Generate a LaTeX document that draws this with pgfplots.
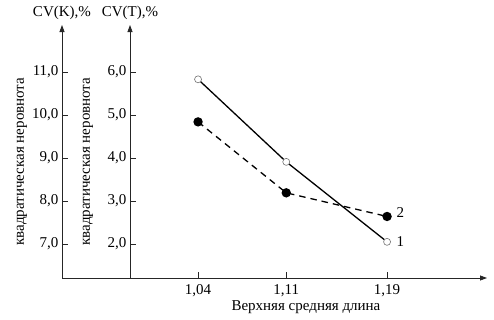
\documentclass[border=0pt]{standalone}
\usepackage{fontspec}
\setmainfont{Liberation Serif}
\usepackage{pgfplots}
\pgfplotsset{compat=1.18}
\usetikzlibrary{arrows.meta}

\begin{document}
\begin{tikzpicture}[font=\fontsize{15}{17}\selectfont]
\path[use as bounding box] (-62pt,-41pt) rectangle (432pt,278pt);
\begin{axis}[
  at={(0,0)}, anchor=south west, scale only axis,
  width=425pt, height=253pt,
  xmin=0.932, xmax=1.2693, ymin=6.209, ymax=12.093,
  axis x line=bottom, axis y line=left,
  axis line style={line width=0.8pt, black!85, -{Triangle[length=7pt,width=5pt]}},
  xtick={1.04,1.11,1.19}, ytick={7,8,9,10,11},
  tick style={black!85, line width=0.6pt},
  major tick length=6pt,
  tick align=inside,
  tick label style={font=\fontsize{15}{17}\selectfont},
  /pgf/number format/assume math mode=true,
  xticklabel style={/pgf/number format/fixed, /pgf/number format/fixed zerofill, /pgf/number format/precision=2, /pgf/number format/use comma, yshift=-3pt},
  yticklabel style={/pgf/number format/fixed, /pgf/number format/fixed zerofill, /pgf/number format/precision=1, /pgf/number format/use comma},
  every axis y label/.style={at={(rel axis cs:0,0.46)}, xshift=-40pt, rotate=90, anchor=center, font=\fontsize{15}{17}\selectfont},
  ylabel={квадратическая неровнота},
  every axis x label/.style={at={(rel axis cs:0.574,0)}, yshift=-29pt, anchor=center, font=\fontsize{15}{17}\selectfont},
  xlabel={Верхняя средняя длина},
  clip=false,
]
\end{axis}
\begin{axis}[
  at={(68pt,0)}, anchor=south west, scale only axis,
  width=357pt, height=253pt,
  xmin=0.986, xmax=1.2693, ymin=1.209, ymax=7.093,
  axis x line=none, axis y line=left, xtick=\empty,
  axis line style={line width=0.8pt, black!85, -{Triangle[length=7pt,width=5pt]}},
  ytick={2,3,4,5,6},
  tick style={black!85, line width=0.6pt},
  major tick length=6pt,
  tick align=inside,
  tick label style={font=\fontsize{15}{17}\selectfont},
  /pgf/number format/assume math mode=true,
  yticklabel style={/pgf/number format/fixed, /pgf/number format/fixed zerofill, /pgf/number format/precision=1, /pgf/number format/use comma},
  every axis y label/.style={at={(rel axis cs:0,0.46)}, xshift=-42pt, rotate=90, anchor=center, font=\fontsize{15}{17}\selectfont},
  ylabel={квадратическая неровнота},
  clip=false,
]
\addplot[line width=1.3pt, black, mark=*, mark options={solid, fill=white, draw=black!55, line width=0.6pt}, mark size=3.5pt] coordinates {(1.04,5.83) (1.11,3.91) (1.19,2.05)};
\addplot[line width=1.3pt, black, dash pattern=on 6.5pt off 5pt, mark=*, mark options={solid, fill=black}, mark size=4pt] coordinates {(1.04,4.84) (1.11,3.19) (1.19,2.64)};
\node[anchor=west, font=\fontsize{15}{17}\selectfont] at (axis cs:1.19,2.05) [xshift=6pt] {1};
\node[anchor=west, font=\fontsize{15}{17}\selectfont] at (axis cs:1.19,2.64) [xshift=6pt, yshift=4pt] {2};
\node[anchor=center, font=\fontsize{15}{17}\selectfont] at (axis cs:0.986,7.093) [yshift=12pt] {CV(T),\%};
\node[anchor=center, font=\fontsize{15}{17}\selectfont] at (axis cs:0.932,7.093) [yshift=12pt] {CV(K),\%};
\end{axis}
\end{tikzpicture}
\end{document}
